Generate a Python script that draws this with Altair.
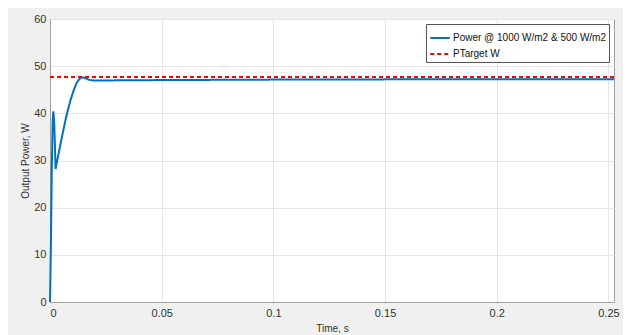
import altair as alt
import pandas as pd

# Power response (W) vs time (s)
time_s = [0, 0.0004, 0.0008, 0.0012, 0.0015, 0.0019, 0.0025, 0.003, 0.004, 0.005,
          0.006, 0.007, 0.008, 0.009, 0.010, 0.011, 0.012, 0.013, 0.014, 0.015,
          0.016, 0.017, 0.018, 0.020, 0.025, 0.03, 0.05, 0.075, 0.1, 0.125,
          0.15, 0.175, 0.2, 0.225, 0.2525]
power_w = [0, 12, 28, 38.5, 40.4, 38, 28.2, 29.5, 31.8, 34.2,
           36.5, 38.7, 40.7, 42.5, 44.0, 45.4, 46.5, 47.2, 47.6, 47.6,
           47.4, 47.2, 47.05, 46.95, 46.95, 47.0, 47.05, 47.1, 47.15, 47.15,
           47.2, 47.2, 47.2, 47.2, 47.2]

target_time = [0, 0.2525]
target_w = [47.7, 47.7]

series_names = ["Power @ 1000 W/m2 & 500 W/m2", "PTarget W"]

df = pd.concat([
    pd.DataFrame({"t": time_s, "p": power_w, "s": series_names[0]}),
    pd.DataFrame({"t": target_time, "p": target_w, "s": series_names[1]}),
])

font = "Liberation Sans"

chart = alt.Chart(df).mark_line(strokeWidth=2).encode(
    x=alt.X("t:Q", scale=alt.Scale(domain=[0, 0.2525], nice=False),
            axis=alt.Axis(title="Time, s", values=[0, 0.05, 0.1, 0.15, 0.2, 0.25],
                          labelExpr="datum.value == 0 ? '0' : format(datum.value, '~g')")),
    y=alt.Y("p:Q", scale=alt.Scale(domain=[0, 60], nice=False),
            axis=alt.Axis(title="Output Power, W", values=[0, 10, 20, 30, 40, 50, 60])),
    color=alt.Color("s:N", scale=alt.Scale(domain=series_names, range=["#0072BD", "#FF0000"]),
                    legend=alt.Legend(title=None, orient="top-right", fillColor="white",
                                      strokeColor="#555555", padding=3, offset=5,
                                      symbolType="stroke", symbolSize=380, symbolStrokeWidth=2,
                                      labelFontSize=10, labelColor="#111111", labelFont=font,
                                      labelOffset=2, rowPadding=0, labelLimit=300)),
    strokeDash=alt.StrokeDash("s:N", scale=alt.Scale(domain=series_names, range=[[1, 0], [4, 3]]),
                              legend=alt.Legend(title=None, orient="top-right")),
    order=alt.Order("t:Q"),
).properties(
    width=564, height=283,
    autosize=alt.AutoSizeParams(type="none"),
    padding={"left": 42, "top": 11, "right": 9, "bottom": 33},
    background="#f0f0f0",
).configure_view(
    fill="white", stroke="#a0a0a0", strokeWidth=1,
).configure_axis(
    labelFont=font, titleFont=font, labelFontSize=11, titleFontSize=10,
    labelColor="#333333", titleColor="#333333", titleFontWeight="normal",
    domainColor="#a0a0a0", gridColor="#e6e6e6", ticks=False,
).configure_axisX(
    titlePadding=5, labelPadding=5,
).configure_axisY(
    titlePadding=3, labelPadding=4,
)

chart.save("out.html", embed_options={"renderer": "svg", "actions": False})
